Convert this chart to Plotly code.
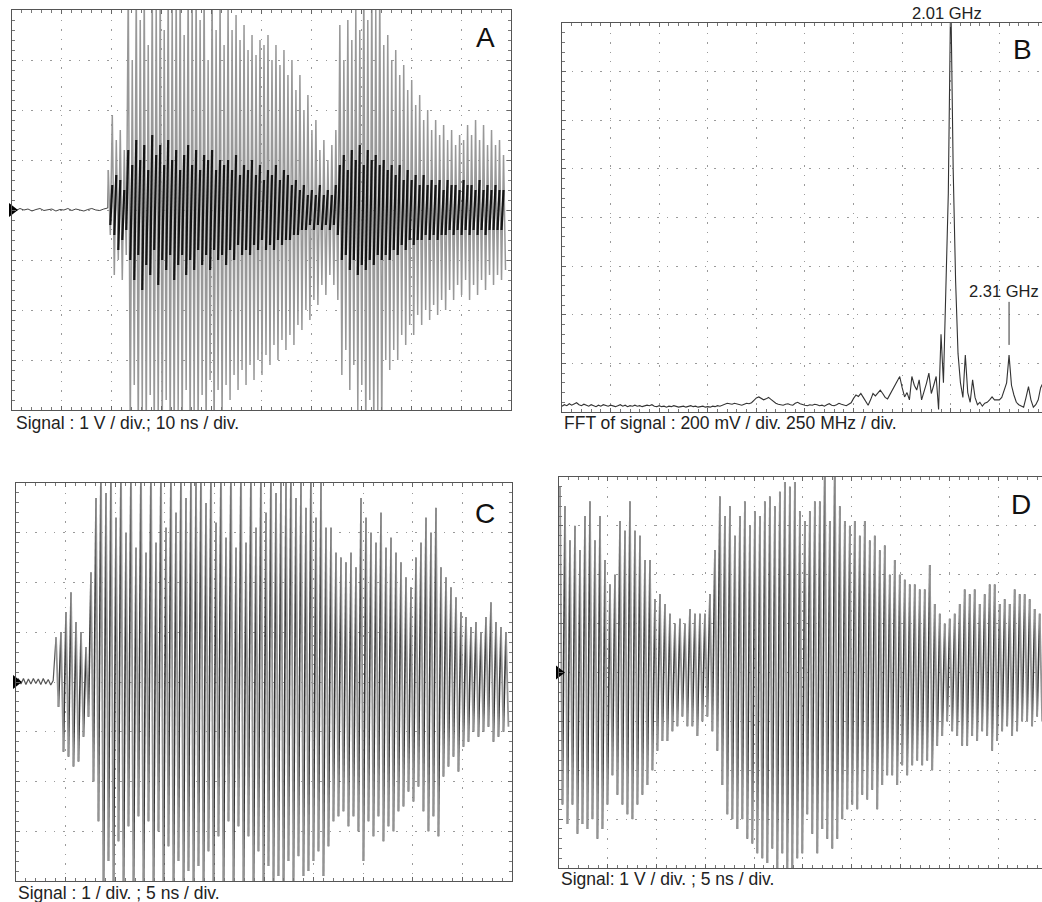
import plotly.graph_objects as go

W, H = 1042, 902

# ---------------- DATA ----------------
# Panel A : 1 V/div, 10 ns/div.  Baseline samples before the burst (V)
A_pre = [0.02, -0.01, 0.03, 0.0, 0.02, -0.02, 0.01, 0.03, -0.01, 0.0, 0.02, -0.02, 0.01,
         0.0, 0.03, -0.01, 0.02, 0.0, -0.02, 0.01, 0.03, 0.0, -0.01, 0.02, 0.04]
A_pre_dt = 0.8          # ns between baseline samples
A_t0 = 19.3             # ns, first burst swing
A_dt = 0.8              # ns between swings
# outer (grey) swing extremes, tenths of a volt
A_hi = [8, 19, 14, 16, 12,
        45, 30, 45, 38, 45, 33, 45, 42, 45, 36, 45, 40, 45, 45, 35, 45, 42, 45, 38, 45, 30, 45, 36, 43, 33,
        41, 36, 39, 34, 37, 32, 35, 31, 34, 33, 35, 30, 33, 29, 32,
        27, 30, 24, 27, 20, 23, 16, 18, 12, 14, 10, 13, 16,
        37, 30, 38, 34, 40, 36, 45, 38, 45, 40, 45,
        33, 35, 30, 32, 27, 29, 24, 26, 21, 23, 18, 20,
        16, 18, 15, 17, 14, 16, 13, 15, 14, 17, 15, 18, 14, 17, 13, 16, 13, 14, 11]
A_lo = [-5, -13, -10, -14, -9,
        -45, -35, -45, -40, -45, -37, -45, -42, -45, -38, -45, -45, -40, -45, -36, -45, -40, -45, -37, -45, -34, -45, -36, -42, -35,
        -38, -33, -36, -32, -35, -31, -34, -30, -33, -29, -31, -27, -30, -26, -28,
        -25, -27, -23, -24, -20, -22, -18, -19, -15, -17, -13, -15, -18,
        -33, -28, -36, -31, -40, -35, -45, -38, -45, -40, -45,
        -30, -32, -28, -30, -25, -27, -23, -25, -21, -23, -20, -22,
        -19, -21, -18, -20, -16, -18, -15, -17, -14, -18, -15, -17, -14, -16, -13, -15, -13, -14, -12]
# inner (black) core swings, tenths of a volt
A_khi = [3, 5, 7, 6, 4,
         12, 9, 14, 10, 13, 8, 15, 11, 13, 9, 14, 10, 12, 8, 11, 13, 9, 12, 8, 11, 10, 12, 8, 10, 9,
         10, 8, 11, 7, 9, 8, 10, 7, 9, 6, 8, 7, 9, 6, 8,
         7, 5, 6, 4, 5, 3, 4, 3, 5, 3, 4, 3, 5,
         9, 11, 8, 12, 10, 13, 9, 12, 10, 11, 9,
         10, 8, 9, 7, 9, 6, 8, 6, 7, 5, 7, 5,
         6, 5, 6, 4, 6, 5, 5, 4, 6, 5, 5, 4, 6, 4, 5, 4, 5, 4, 4]
A_klo = [-3, -5, -8, -6, -4,
         -10, -14, -9, -16, -11, -13, -8, -15, -10, -12, -9, -14, -11, -9, -13, -10, -12, -8, -11, -9, -12, -8, -10, -9, -11,
         -8, -10, -7, -9, -8, -9, -7, -8, -6, -8, -7, -8, -6, -7, -6,
         -6, -5, -5, -4, -4, -3, -4, -3, -4, -3, -4, -3, -5,
         -10, -9, -12, -10, -13, -11, -12, -10, -11, -9, -10,
         -9, -10, -8, -9, -7, -8, -6, -7, -6, -6, -5, -6,
         -5, -6, -5, -5, -4, -5, -4, -5, -4, -5, -4, -5, -4, -5, -4, -4, -4, -4, -3]

# Panel B : FFT, 200 mV/div, 250 MHz/div ; bins of 12.5 MHz, values in mV
B_df = 0.0125           # GHz per bin
B_mV = [24, 30, 26, 34, 28, 32, 38, 30, 26, 32,
        28, 24, 30, 26, 22, 28, 24, 30, 26, 24,
        28, 24, 22, 26, 30, 24, 28, 22, 26, 24,
        28, 24, 26, 22, 24, 28, 26, 30, 24, 22,
        26, 22, 24, 20, 24, 22, 26, 24, 20, 22,
        24, 20, 22, 26, 22, 24, 20, 22, 24, 20,
        22, 20, 24, 22, 26, 24, 28, 32, 36, 34,
        32, 36, 34, 30, 28, 32, 36, 34, 38, 48,
        58, 62, 56, 50, 54, 60, 52, 42, 36, 32,
        30, 28, 32, 34, 30, 28, 36, 40, 34, 30,
        28, 26, 30, 28, 32, 30, 26, 28, 24, 30,
        34, 28, 26, 30, 36, 32, 28, 26, 32, 38,
        56, 70, 64, 76, 60, 44, 28, 50, 76, 66,
        80, 90, 76, 60, 54, 72, 90, 104, 124, 146,
        100, 62, 80, 50, 146, 110, 90, 132, 50, 80,
        118, 160, 76, 110, 146,
        10, 320, 120, 460, 900, 1740,
        1000, 540, 240, 120, 60, 234, 80, 40, 132,
        60, 30, 40, 24, 36, 40, 50, 62, 50, 50,
        50, 60, 90, 120, 234, 110, 70, 40, 30, 24,
        20, 60, 104, 50, 20, 30, 50, 100, 120]
B_peak_labels = ["2.01 GHz", "2.31 GHz"]
B_marker_bin = 184      # bin of the 2.31 GHz line
B_marker_mV = [276, 453]

# Panel C : 1 V/div, 5 ns/div
C_pre = [0.0, 0.06, -0.04, 0.07, -0.05, 0.06, -0.04, 0.07, -0.03, 0.06, -0.05, 0.07, -0.04, 0.05, -0.06, 0.03]
C_pre_dt = 0.25
C_t0 = 4.03
C_dt = 0.504
C_hi = [9, 10, 14, 18, 12, 10, 7, 22, 37,
        45, 38, 45, 33, 45, 30, 45, 27, 45, 26, 45, 28, 45, 31, 45, 34, 45, 37, 45, 40,
        45, 36, 45, 32, 45, 29, 45, 27, 45, 28, 45, 31, 45, 34, 45, 38, 42, 40, 45, 37,
        41, 35, 45, 33, 40, 31,
        31, 26, 25, 24, 26, 23, 37, 33, 30, 28, 34, 27, 29, 26, 24, 21, 19, 25, 28, 33,
        30, 35, 23, 21, 19, 17, 14, 13, 11, 12, 10, 13, 16, 12, 11, 10]
C_lo = [-5, -14, -15, -17, -16, -11, -7, -20, -28,
        -45, -36, -45, -32, -45, -29, -45, -27, -45, -28, -45, -30, -45, -33, -45, -36, -45, -38, -45, -37,
        -45, -34, -45, -31, -45, -28, -45, -29, -45, -31, -45, -34, -45, -37, -42, -39, -45, -36, -40, -35,
        -39, -38, -36, -34, -39, -33,
        -28, -27, -26, -29, -27, -30, -36, -28, -31, -27, -32, -29, -30, -26, -25, -22, -24, -21, -26, -30,
        -27, -31, -19, -17, -15, -18, -13, -12, -10, -11, -10, -9, -12, -11, -10, -9]

# Panel D : 1 V/div, 5 ns/div
D_t0 = 0.1
D_dt = 0.512
D_hi = [38, 34, 27, 30, 25, 32, 35, 27, 32, 23, 18, 20, 31, 29, 35, 29, 28, 23, 23, 15,
        16, 14, 12, 10, 11, 10, 13, 12, 12, 12, 16, 25, 36, 32, 34, 28, 32, 35, 30, 33,
        32, 35, 36, 34, 37, 39, 38, 39, 33, 31, 33, 35, 35, 45, 31, 45, 34, 31, 30, 31,
        28, 31, 27, 28, 25, 26, 20, 23, 20, 19, 18, 18, 17, 17, 22, 14, 12, 10, 11, 12,
        14, 17, 16, 17, 14, 16, 18, 18, 14, 15, 14, 17, 16, 16, 15, 13, 12]
D_lo = [-27, -31, -27, -33, -31, -32, -30, -34, -32, -27, -21, -25, -27, -29, -30, -27, -25, -23, -20, -16,
        -14, -14, -12, -11, -9, -11, -11, -13, -10, -9, -12, -16, -23, -29, -30, -32, -30, -34, -35, -37,
        -38, -39, -36, -41, -37, -42, -40, -38, -37, -29, -33, -37, -32, -34, -36, -34, -30, -28, -27, -28,
        -25, -26, -24, -28, -23, -21, -21, -23, -19, -21, -19, -18, -19, -18, -20, -15, -13, -10, -12, -13,
        -15, -15, -13, -14, -12, -13, -16, -14, -12, -11, -13, -12, -10, -10, -11, -9, -10]

CAPTIONS = ["Signal : 1 V / div.; 10 ns / div.",
            "FFT of signal : 200 mV / div. 250 MHz / div.",
            "Signal : 1 / div. ; 5 ns / div.",
            "Signal: 1 V / div. ; 5 ns / div."]
PANEL_LETTERS = ["A", "B", "C", "D"]

# ---------------- helpers ----------------
def px_x(p):
    return p / W

def px_y(p):
    return 1 - p / H

def zigzag(t0, dt, hi, lo, scale=0.1):
    xs, ys = [], []
    for i, (h, l) in enumerate(zip(hi, lo)):
        xs += [t0 + i * dt, t0 + i * dt + dt / 2]
        ys += [h * scale, l * scale]
    return xs, ys

def strokes(xs, ys):
    dn_x, dn_y, up_x, up_y = [], [], [], []
    for k in range(len(xs) - 1):
        if k % 2 == 0:
            dn_x += [xs[k], xs[k + 1], None]
            dn_y += [ys[k], ys[k + 1], None]
        else:
            up_x += [xs[k], xs[k + 1], None]
            up_y += [ys[k], ys[k + 1], None]
    return dn_x, dn_y, up_x, up_y

FONT = "Liberation Sans, Arial, Helvetica, sans-serif"
GREY = "#949494"
DARK = "#333333"

fig = go.Figure()

# ---- Panel A ----
pre_x = [i * A_pre_dt for i in range(len(A_pre))]
ax_, ay_ = zigzag(A_t0, A_dt, A_hi, A_lo)
fig.add_trace(go.Scatter(x=pre_x + ax_[:1], y=A_pre + ay_[:1], mode="lines",
                         line=dict(color="#444", width=1), xaxis="x", yaxis="y"))
fig.add_trace(go.Scatter(x=ax_, y=ay_, mode="lines", line=dict(color="#989898", width=1.5),
                         xaxis="x", yaxis="y"))
kx, ky = zigzag(A_t0, A_dt, A_khi, A_klo)
kdx, kdy, kux, kuy = strokes(kx, ky)
fig.add_trace(go.Scatter(x=kux, y=kuy, mode="lines", line=dict(color="#151515", width=2.2),
                         xaxis="x", yaxis="y"))

# ---- Panel B ----
bx = [i * B_df for i in range(len(B_mV))]
fig.add_trace(go.Scatter(x=bx, y=B_mV, mode="lines", line=dict(color="#333", width=1.1),
                         xaxis="x2", yaxis="y2"))
fig.add_trace(go.Scatter(x=[B_marker_bin * B_df] * 2, y=B_marker_mV, mode="lines",
                         line=dict(color="#333", width=1), xaxis="x2", yaxis="y2"))

# ---- Panel C ----
cpx = [i * C_pre_dt for i in range(len(C_pre))]
cx, cy = zigzag(C_t0, C_dt, C_hi, C_lo)
fig.add_trace(go.Scatter(x=cpx + cx[:1], y=C_pre + cy[:1], mode="lines",
                         line=dict(color="#555", width=1.2), xaxis="x3", yaxis="y3"))
dnx, dny, upx, upy = strokes(cx, cy)
fig.add_trace(go.Scatter(x=upx, y=upy, mode="lines", line=dict(color=DARK, width=1.6),
                         xaxis="x3", yaxis="y3"))
fig.add_trace(go.Scatter(x=dnx, y=dny, mode="lines", line=dict(color=GREY, width=1.8),
                         xaxis="x3", yaxis="y3"))

# ---- Panel D ----
dx, dy = zigzag(D_t0, D_dt, D_hi, D_lo)
dnx, dny, upx, upy = strokes(dx, dy)
fig.add_trace(go.Scatter(x=upx, y=upy, mode="lines", line=dict(color=DARK, width=1.6),
                         xaxis="x4", yaxis="y4"))
fig.add_trace(go.Scatter(x=dnx, y=dny, mode="lines", line=dict(color=GREY, width=1.8),
                         xaxis="x4", yaxis="y4"))

# ground markers (at the left edge of each time panel)
for xa, ya in [("x", "y"), ("x3", "y3"), ("x4", "y4")]:
    fig.add_trace(go.Scatter(x=[0], y=[0], mode="markers", cliponaxis=False,
                             marker=dict(symbol="triangle-right", size=12, color="black"),
                             xaxis=xa, yaxis=ya))

# ---------------- axes ----------------
def axis(domain, rng, dtick, minor, anchor, mirror=True):
    return dict(domain=domain, range=rng, dtick=dtick, tick0=0, showticklabels=False,
                ticks="inside", ticklen=4, tickcolor="#666", tickwidth=1,
                showline=True, linecolor="#555", linewidth=1.3,
                mirror="allticks" if mirror else False,
                showgrid=True, gridcolor="#9a9a9a", gridwidth=1, griddash="1.5px,8px",
                minor=dict(dtick=minor, ticks="inside", ticklen=3, tickcolor="#777", showgrid=False),
                zeroline=False, anchor=anchor, fixedrange=True)

layout = dict(
    width=W, height=H, margin=dict(l=0, r=0, t=0, b=0),
    paper_bgcolor="white", plot_bgcolor="white", showlegend=False,
    xaxis=axis([px_x(12), px_x(511)], [0, 100], 10, 2, "y"),
    yaxis=axis([px_y(410), px_y(10)], [-4, 4], 1, 0.2, "x"),
    xaxis2=axis([px_x(562), 1.0], [0, 2.4695], 0.25, 0.05, "y2"),
    yaxis2=axis([px_y(412), px_y(23)], [0, 1600], 200, 40, "x2", mirror=False),
    xaxis3=axis([px_x(16), px_x(512)], [0, 50], 5, 1, "y3"),
    yaxis3=axis([px_y(881), px_y(483)], [-4, 4], 1, 0.2, "x3"),
    xaxis4=axis([px_x(559), 1.0], [0, 49.49], 5, 1, "y4"),
    yaxis4=axis([px_y(868), px_y(477)], [-4, 4], 1, 0.2, "x4", mirror=False),
)
fig.update_layout(**layout)

ann = []
cap_pos = [(14, 423), (562, 423), (16, 893), (559, 879)]
for txt, (x, y) in zip(CAPTIONS, cap_pos):
    ann.append(dict(text=txt, x=px_x(x), y=px_y(y), xref="paper", yref="paper",
                    xanchor="left", yanchor="middle", showarrow=False,
                    font=dict(family=FONT, size=17.5, color="#222")))
let_pos = [(485, 38), (1022, 50), (485, 513), (1021, 505)]
for txt, (x, y) in zip(PANEL_LETTERS, let_pos):
    ann.append(dict(text=txt, x=px_x(x), y=px_y(y), xref="paper", yref="paper",
                    xanchor="center", yanchor="middle", showarrow=False,
                    font=dict(family=FONT, size=28, color="#111")))
ann.append(dict(text=B_peak_labels[0], x=px_x(947), y=px_y(13), xref="paper", yref="paper",
                xanchor="center", yanchor="middle", showarrow=False,
                font=dict(family=FONT, size=16.5, color="#222")))
ann.append(dict(text=B_peak_labels[1], x=px_x(1004), y=px_y(291), xref="paper", yref="paper",
                xanchor="center", yanchor="middle", showarrow=False,
                font=dict(family=FONT, size=16.5, color="#222")))
fig.update_layout(annotations=ann)

fig.write_html("out.html", config={"displayModeBar": False},
               post_script="document.body.style.margin='0';document.body.style.overflow='hidden';")
